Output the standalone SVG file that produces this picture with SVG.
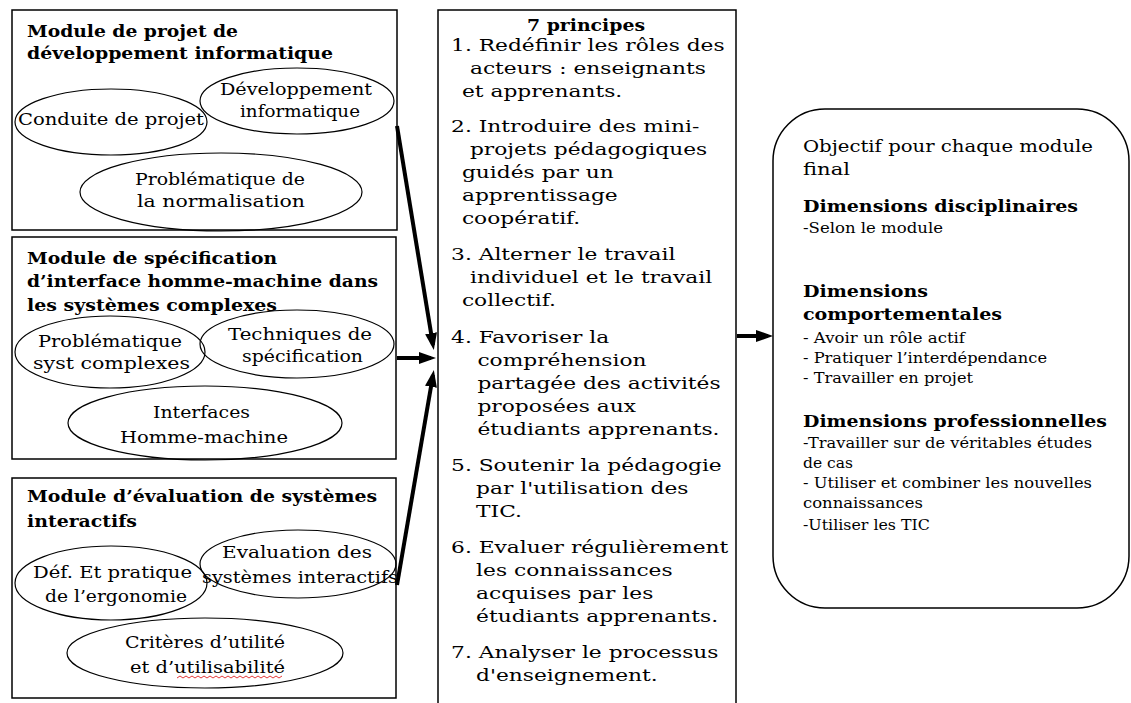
<svg xmlns="http://www.w3.org/2000/svg" width="1131" height="703" viewBox="0 0 1131 703">
<style>
.t{font-family:"DejaVu Serif",serif;fill:#000}
.h{font-size:16px;font-weight:bold}
.e{font-size:17px}
.m{font-size:16px}
.r{font-size:16px}
.rb{font-size:17px;font-weight:bold}
.s{font-size:14px}
.box{fill:#fff;stroke:#000;stroke-width:1.5}
.ell{fill:none;stroke:#000;stroke-width:1.2}
.arr{stroke:#000;stroke-width:4;fill:none;marker-end:url(#ah)}
</style>
<defs>
<marker id="ah" markerUnits="userSpaceOnUse" markerWidth="17" markerHeight="14" viewBox="0 0 17 14" refX="12" refY="7" orient="auto">
<path d="M0,1 L17,7 L0,13 z" fill="#000"/>
</marker>
</defs>
<rect width="1131" height="703" fill="#fff"/>

<g id="module1">
<rect class="box" x="12" y="10" width="385" height="220"/>
<text class="t h" x="27" y="37" textLength="211" lengthAdjust="spacingAndGlyphs">Module de projet de</text>
<text class="t h" x="27" y="59" textLength="306" lengthAdjust="spacingAndGlyphs">développement informatique</text>
<ellipse class="ell" cx="111" cy="122" rx="96" ry="33"/>
<ellipse class="ell" cx="297" cy="101" rx="97" ry="33"/>
<ellipse class="ell" cx="221" cy="192" rx="141" ry="39"/>
<text class="t e" x="18" y="125" textLength="186" lengthAdjust="spacingAndGlyphs">Conduite de projet</text>
<text class="t e" x="220" y="95" textLength="152" lengthAdjust="spacingAndGlyphs">Développement</text>
<text class="t e" x="240" y="117" textLength="120" lengthAdjust="spacingAndGlyphs">informatique</text>
<text class="t e" x="135" y="185" textLength="170" lengthAdjust="spacingAndGlyphs">Problématique de</text>
<text class="t e" x="137" y="207" textLength="168" lengthAdjust="spacingAndGlyphs">la normalisation</text>
</g>

<g id="module2">
<rect class="box" x="12" y="237" width="384" height="222"/>
<text class="t h" x="27" y="264" textLength="250" lengthAdjust="spacingAndGlyphs">Module de spécification</text>
<text class="t h" x="27" y="287" textLength="351" lengthAdjust="spacingAndGlyphs">d’interface homme-machine dans</text>
<text class="t h" x="27" y="311" textLength="250" lengthAdjust="spacingAndGlyphs">les systèmes complexes</text>
<ellipse class="ell" cx="110" cy="352" rx="95" ry="36"/>
<ellipse class="ell" cx="297" cy="344" rx="97" ry="34"/>
<ellipse class="ell" cx="205" cy="423" rx="137" ry="37"/>
<text class="t e" x="38" y="347" textLength="144" lengthAdjust="spacingAndGlyphs">Problématique</text>
<text class="t e" x="33" y="369" textLength="157" lengthAdjust="spacingAndGlyphs">syst complexes</text>
<text class="t e" x="228" y="340" textLength="144" lengthAdjust="spacingAndGlyphs">Techniques de</text>
<text class="t e" x="242" y="362" textLength="121" lengthAdjust="spacingAndGlyphs">spécification</text>
<text class="t e" x="153" y="418" textLength="97" lengthAdjust="spacingAndGlyphs">Interfaces</text>
<text class="t e" x="120" y="443" textLength="168" lengthAdjust="spacingAndGlyphs">Homme-machine</text>
</g>

<g id="module3">
<rect class="box" x="12" y="478" width="384" height="220"/>
<text class="t h" x="27" y="502" textLength="350" lengthAdjust="spacingAndGlyphs">Module d’évaluation de systèmes</text>
<text class="t h" x="27" y="527" textLength="110" lengthAdjust="spacingAndGlyphs">interactifs</text>
<ellipse class="ell" cx="111" cy="583" rx="96" ry="37"/>
<ellipse class="ell" cx="298" cy="564" rx="98" ry="34"/>
<ellipse class="ell" cx="205" cy="653" rx="138" ry="35"/>
<text class="t e" x="33" y="578" textLength="159" lengthAdjust="spacingAndGlyphs">Déf. Et pratique</text>
<text class="t e" x="45" y="602" textLength="142" lengthAdjust="spacingAndGlyphs">de l’ergonomie</text>
<text class="t e" x="222" y="558" textLength="150" lengthAdjust="spacingAndGlyphs">Evaluation des</text>
<text class="t e" x="202" y="583" textLength="196" lengthAdjust="spacingAndGlyphs">systèmes interactifs</text>
<text class="t e" x="125" y="648" textLength="160" lengthAdjust="spacingAndGlyphs">Critères d’utilité</text>
<text class="t e" x="130" y="673" textLength="155" lengthAdjust="spacingAndGlyphs">et d’utilisabilité</text>
<polyline points="177,678 180,676 183,678 186,676 189,678 192,676 195,678 198,676 201,678 204,676 207,678 210,676 213,678 216,676 219,678 222,676 225,678 228,676 231,678 234,676 237,678 240,676 243,678 246,676 249,678 252,676 255,678 258,676 261,678 264,676 267,678 270,676 273,678 276,676 279,678 282,676" fill="none" stroke="#e02020" stroke-width="0.9"/>
</g>

<g id="principes">
<rect class="box" x="438" y="10" width="298" height="700"/>
<text class="t rb" x="527" y="31" textLength="118" lengthAdjust="spacingAndGlyphs">7 principes</text>
<g transform="translate(438 0) scale(1.36 1)">
<text class="t m" x="9.6" y="51">1. Redéfinir les rôles des</text>
<text class="t m" x="23.5" y="74">acteurs : enseignants</text>
<text class="t m" x="17.6" y="97">et apprenants.</text>
<text class="t m" x="9.6" y="132">2. Introduire des mini-</text>
<text class="t m" x="23.5" y="155">projets pédagogiques</text>
<text class="t m" x="17.6" y="178">guidés par un</text>
<text class="t m" x="17.6" y="201">apprentissage</text>
<text class="t m" x="17.6" y="224">coopératif.</text>
<text class="t m" x="9.6" y="260">3. Alterner le travail</text>
<text class="t m" x="23.5" y="283">individuel et le travail</text>
<text class="t m" x="17.6" y="306">collectif.</text>
<text class="t m" x="9.6" y="343">4. Favoriser la</text>
<text class="t m" x="29" y="366">compréhension</text>
<text class="t m" x="29" y="389">partagée des activités</text>
<text class="t m" x="29" y="412">proposées aux</text>
<text class="t m" x="29" y="435">étudiants apprenants.</text>
<text class="t m" x="9.6" y="471">5. Soutenir la pédagogie</text>
<text class="t m" x="28" y="494">par l'utilisation des</text>
<text class="t m" x="28" y="517">TIC.</text>
<text class="t m" x="9.6" y="553">6. Evaluer régulièrement</text>
<text class="t m" x="28" y="576">les connaissances</text>
<text class="t m" x="28" y="599">acquises par les</text>
<text class="t m" x="28" y="622">étudiants apprenants.</text>
<text class="t m" x="9.6" y="658">7. Analyser le processus</text>
<text class="t m" x="28" y="681">d'enseignement.</text>
</g>
</g>

<g id="objectif">
<rect class="box" x="773" y="109" width="356" height="499" rx="52" ry="52"/>
<text class="t r" x="803" y="152" textLength="290" lengthAdjust="spacingAndGlyphs">Objectif pour chaque module</text>
<text class="t r" x="803" y="175" textLength="47" lengthAdjust="spacingAndGlyphs">final</text>
<text class="t rb" x="803" y="212" textLength="275" lengthAdjust="spacingAndGlyphs">Dimensions disciplinaires</text>
<text class="t s" x="803" y="233" textLength="140" lengthAdjust="spacingAndGlyphs">-Selon le module</text>
<text class="t rb" x="803" y="297" textLength="125" lengthAdjust="spacingAndGlyphs">Dimensions</text>
<text class="t rb" x="803" y="320" textLength="199" lengthAdjust="spacingAndGlyphs">comportementales</text>
<text class="t s" x="803" y="343" textLength="162" lengthAdjust="spacingAndGlyphs">- Avoir un rôle actif</text>
<text class="t s" x="803" y="363" textLength="244" lengthAdjust="spacingAndGlyphs">- Pratiquer l’interdépendance</text>
<text class="t s" x="803" y="383" textLength="170" lengthAdjust="spacingAndGlyphs">- Travailler en projet</text>
<text class="t rb" x="803" y="427" textLength="304" lengthAdjust="spacingAndGlyphs">Dimensions professionnelles</text>
<text class="t s" x="803" y="448" textLength="289" lengthAdjust="spacingAndGlyphs">-Travailler sur de véritables études</text>
<text class="t s" x="803" y="468" textLength="50" lengthAdjust="spacingAndGlyphs">de cas</text>
<text class="t s" x="803" y="488" textLength="289" lengthAdjust="spacingAndGlyphs">- Utiliser et combiner les nouvelles</text>
<text class="t s" x="803" y="508" textLength="120" lengthAdjust="spacingAndGlyphs">connaissances</text>
<text class="t s" x="803" y="530" textLength="127" lengthAdjust="spacingAndGlyphs">-Utiliser les TIC</text>
</g>

<g id="connectors">
<line class="arr" x1="397" y1="126" x2="433" y2="345"/>
<line class="arr" x1="397" y1="358" x2="431" y2="358"/>
<line class="arr" x1="397" y1="585" x2="433" y2="375"/>
<line class="arr" x1="737" y1="336" x2="768" y2="336"/>
</g>
</svg>
